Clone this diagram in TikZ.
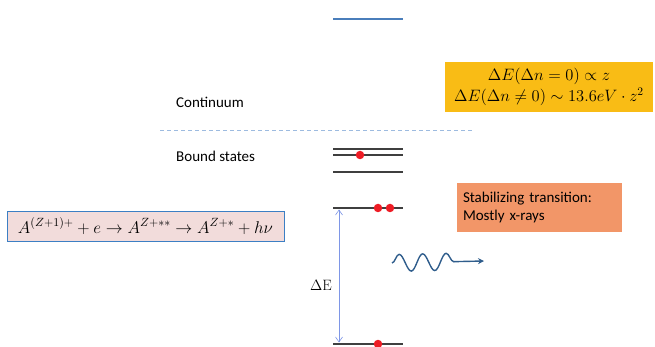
\RequirePackage{fix-cm}
\documentclass[tikz,border=0pt]{standalone}
\usepackage{fontspec}
\usepackage{amsmath}
\usepackage{xcolor}
\usepackage{tikz}
\newfontfamily\calibri{Carlito}
\definecolor{levelgray}{HTML}{3F3F3F}
\definecolor{topblue}{HTML}{4A7EBB}
\definecolor{dashblue}{HTML}{9DBBE0}
\definecolor{dotred}{HTML}{EE1C25}
\definecolor{goldfill}{HTML}{F9BC15}
\definecolor{pinkfill}{HTML}{F2DCDB}
\definecolor{pinkline}{HTML}{3C7FC4}
\definecolor{orangefill}{HTML}{F29668}
\definecolor{waveblue}{HTML}{2F5D8C}
\tikzset{
  level/.style={levelgray, line width=1.1pt},
  electron/.style={circle, fill=dotred, inner sep=0pt, minimum size=8.5pt},
  label/.style={font=\calibri\fontsize{15}{18}\selectfont, anchor=west, inner sep=0pt}
}
\usetikzlibrary{
  positioning, arrows.meta, decorations.pathmorphing
}

\begin{document}
\begin{tikzpicture}[
  x=1pt, y=-1pt,
  mathbox/.style={inner sep=0pt, align=center, font=\fontsize{16.5}{20.5}\selectfont},
  gap/.style={{Straight Barb[length=5pt,width=7pt]}-{Straight Barb[length=5pt,width=7pt]}, dashblue!80!blue, line width=0.6pt},
  wave/.style={waveblue, line width=1.4pt, -{Stealth[length=6pt,width=6pt]}, decorate,
    decoration={snake, amplitude=8.5pt, segment length=23.5pt, post length=21pt}}
]
\useasboundingbox (0,0) rectangle (655,347);

% energy levels
\draw[topblue, line width=1.1pt] (333,19) -- (403,19);
\draw[dashblue, line width=1pt, dash pattern=on 4pt off 3pt] (160,131) -- (474,131);
\draw[level] (333,149) -- (403,149);
\draw[level] (333,155) -- (403,155);
\draw[level] (333,172) -- (403,172);
\draw[level] (333,208) coordinate (upL) -- (403,208);
\draw[level] (333,344) coordinate (lowL) -- (403,344);

\node[electron] (e1) at (360,155) {};
\node[electron] (e2) at (378,208) {};
\node[electron] (e3) at (390,208) {};
\node[electron] (e4) at (378,344) {};

\node[label] (cont) at (176,102) {Continuum};
\node[label] (bound) at (176,156) {Bound states};

% transition
\coordinate (gapT) at (339,209.5);
\coordinate (gapB) at (339,342.5);
\draw[gap] (gapT) -- (gapB);
\node[font=\fontsize{15}{18}\selectfont] (dE) at (321,285) {$\Delta$E};

\coordinate (waveS) at (392,263);
\coordinate (waveE) at (484,261);
\draw[wave] (waveS) -- (waveE);

% boxes
\node[mathbox, fill=goldfill, minimum width=208pt, minimum height=50pt] (scaling) at (549,87)
  {$\Delta E(\Delta n=0)\propto z$\\ $\Delta E(\Delta n\neq 0)\sim 13.6eV\cdot z^{2}$};
\node[mathbox, font=\fontsize{17}{20}\selectfont, fill=pinkfill, draw=pinkline, line width=0.9pt,
  minimum width=277pt, minimum height=30pt] (reaction) at (145.5,226)
  {$A^{(Z+1)+}+e\rightarrow A^{Z+**}\rightarrow A^{Z+*}+h\nu$};
\node[label, fill=orangefill, align=left, anchor=center, text width=153pt,
  minimum width=165pt, minimum height=49pt, inner xsep=6pt] (stab) at (539.5,207.5)
  {Stabilizing transition:\\Mostly x-rays};
\end{tikzpicture}
\end{document}
